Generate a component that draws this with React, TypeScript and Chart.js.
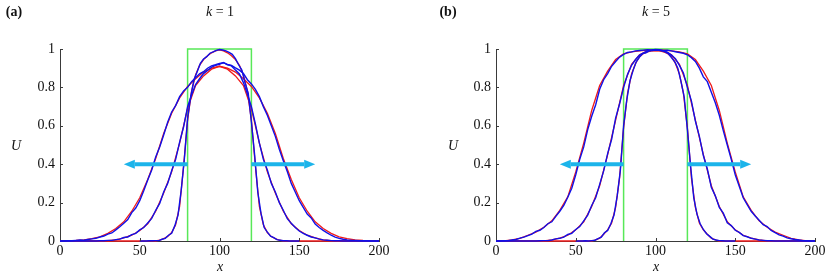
import React, { useEffect, useRef } from 'react';
import { Chart, registerables } from 'chart.js';
Chart.register(...registerables);

// ---------- shared x grids ----------
const xCoarse = [0, 5, 10, 15, 20, 25, 30, 35, 40, 45, 50, 55, 60, 65, 70, 75, 80, 85, 90, 95, 100, 105, 110, 115, 120, 125, 130, 135, 140, 145, 150, 155, 160, 165, 170, 175, 180, 185, 190, 195, 200];
const xFine = [0, 2.5, 5, 7.5, 10, 12.5, 15, 17.5, 20, 22.5, 25, 27.5, 30, 32.5, 35, 37.5, 40, 42.5, 45, 47.5, 50, 52.5, 55, 57.5, 60, 62.5, 65, 67.5, 70, 72.5, 75, 77.5, 80, 82.5, 85, 87.5, 90, 92.5, 95, 97.5, 100, 102.5, 105, 107.5, 110, 112.5, 115, 117.5, 120, 122.5, 125, 127.5, 130, 132.5, 135, 137.5, 140, 142.5, 145, 147.5, 150, 152.5, 155, 157.5, 160, 162.5, 165, 167.5, 170, 172.5, 175, 177.5, 180, 182.5, 185, 187.5, 190, 192.5, 195, 197.5, 200];
const xNarrow = [0, 50, 52.5, 55, 57.5, 60, 62.5, 65, 67.5, 70, 72.5, 75, 77.5, 80, 82.5, 85, 87.5, 90, 92.5, 95, 97.5, 100, 102.5, 105, 107.5, 110, 112.5, 115, 117.5, 120, 122.5, 125, 127.5, 130, 132.5, 135, 137.5, 140, 142.5, 145, 147.5, 150, 200];
const xNarrowBlue = [50, 52, 54, 56, 58, 60, 62, 64, 66, 68, 70, 72, 74, 76, 78, 80, 82, 84, 86, 88, 90, 92, 94, 96, 98, 100, 102, 104, 106, 108, 110, 112, 114, 116, 118, 120, 122, 124, 126, 128, 130, 132, 134, 136, 138, 140, 142, 144, 146, 148, 150];

// ---------- initial box ----------
const boxX = [80, 80, 120, 120];
const boxY = [0, 1, 1, 0];

// ---------- arrows (at U = 0.4) ----------
const arrowU = 0.4;
const arrowLeft = [80, 40];
const arrowRight = [120, 160];

// ---------- ticks ----------
const xTicks = [0, 50, 100, 150, 200];
const yTicks = [0, 0.2, 0.4, 0.6, 0.8, 1];

// ---------- k = 1 : red (theory) ----------
const redWideK1 = [0, 0.001, 0.003, 0.006, 0.012, 0.022, 0.04, 0.065, 0.1, 0.155, 0.225, 0.32, 0.43, 0.56, 0.665, 0.745, 0.805, 0.845, 0.88, 0.9, 0.91, 0.9, 0.88, 0.845, 0.805, 0.745, 0.665, 0.56, 0.43, 0.32, 0.225, 0.155, 0.1, 0.065, 0.04, 0.022, 0.012, 0.006, 0.003, 0.001, 0];
const redMidK1 = [0, 0, 0, 0, 0, 0, 0.002, 0.006, 0.016, 0.03, 0.055, 0.09, 0.155, 0.25, 0.36, 0.51, 0.69, 0.81, 0.86, 0.895, 0.91, 0.895, 0.86, 0.81, 0.69, 0.51, 0.36, 0.25, 0.155, 0.09, 0.055, 0.03, 0.016, 0.006, 0.002, 0, 0, 0, 0, 0, 0];
const redNarrowK1 = [0, 0, 0, 0, 0, 0, 0.004, 0.012, 0.023, 0.044, 0.085, 0.18, 0.39, 0.63, 0.78, 0.865, 0.915, 0.945, 0.965, 0.98, 0.99, 0.995, 0.99, 0.98, 0.965, 0.945, 0.915, 0.865, 0.78, 0.63, 0.39, 0.18, 0.085, 0.044, 0.023, 0.012, 0.004, 0, 0, 0, 0, 0, 0];

// ---------- k = 1 : blue (simulation) ----------
const blueWideK1 = [0, 0, 0.001, 0.001, 0.003, 0.005, 0.004, 0.008, 0.011, 0.014, 0.021, 0.026, 0.036, 0.042, 0.058, 0.074, 0.092, 0.112, 0.148, 0.172, 0.21, 0.262, 0.318, 0.37, 0.438, 0.49, 0.552, 0.618, 0.672, 0.705, 0.752, 0.782, 0.8, 0.83, 0.85, 0.871, 0.882, 0.9, 0.912, 0.918, 0.925,
  0.928, 0.92, 0.915, 0.902, 0.89, 0.872, 0.84, 0.818, 0.79, 0.752, 0.7, 0.655, 0.6, 0.545, 0.478, 0.418, 0.362, 0.3, 0.255, 0.21, 0.175, 0.14, 0.12, 0.088, 0.07, 0.055, 0.042, 0.03, 0.02, 0.014, 0.009, 0.006, 0.004, 0.003, 0.002, 0.001, 0.001, 0, 0, 0];
const blueMidK1 = [0, 0, 0, 0, 0, 0, 0, 0, 0, 0, 0.001, 0.001, 0.003, 0.003, 0.007, 0.01, 0.018, 0.021, 0.033, 0.04, 0.058, 0.07, 0.094, 0.118, 0.16, 0.196, 0.255, 0.3, 0.366, 0.425, 0.515, 0.595, 0.7, 0.76, 0.815, 0.845, 0.872, 0.888, 0.905, 0.915, 0.92,
  0.93, 0.918, 0.912, 0.89, 0.87, 0.825, 0.765, 0.7, 0.61, 0.51, 0.425, 0.37, 0.3, 0.255, 0.2, 0.16, 0.116, 0.092, 0.07, 0.052, 0.04, 0.03, 0.021, 0.016, 0.01, 0.006, 0.004, 0.002, 0.001, 0.001, 0, 0, 0, 0, 0, 0, 0, 0, 0, 0];
const blueNarrowK1 = [0, 0, 0, 0.001, 0.001, 0.002, 0.002, 0.009, 0.014, 0.03, 0.04, 0.08, 0.135, 0.265, 0.43, 0.64, 0.755, 0.84, 0.882, 0.925, 0.948, 0.96, 0.978, 0.985, 0.993, 0.997,
  0.995, 0.99, 0.982, 0.972, 0.95, 0.918, 0.89, 0.825, 0.77, 0.62, 0.45, 0.255, 0.145, 0.07, 0.046, 0.025, 0.017, 0.007, 0.004, 0.001, 0.001, 0, 0, 0, 0];

// ---------- k = 5 : red (theory) ----------
const redWideK5 = [0, 0.001, 0.006, 0.014, 0.03, 0.046, 0.072, 0.105, 0.16, 0.23, 0.36, 0.51, 0.68, 0.81, 0.885, 0.945, 0.975, 0.985, 0.99, 0.994, 0.995, 0.994, 0.99, 0.985, 0.975, 0.945, 0.885, 0.81, 0.68, 0.51, 0.36, 0.23, 0.16, 0.105, 0.072, 0.046, 0.03, 0.014, 0.006, 0.001, 0];
const redMidK5 = [0, 0, 0, 0, 0, 0, 0.001, 0.006, 0.015, 0.03, 0.058, 0.1, 0.18, 0.288, 0.45, 0.63, 0.81, 0.92, 0.97, 0.99, 0.993, 0.99, 0.97, 0.92, 0.81, 0.63, 0.45, 0.288, 0.18, 0.1, 0.058, 0.03, 0.015, 0.006, 0.001, 0, 0, 0, 0, 0, 0];
const redNarrowK5 = [0, 0, 0, 0, 0, 0, 0.006, 0.015, 0.035, 0.058, 0.094, 0.175, 0.33, 0.59, 0.77, 0.87, 0.925, 0.96, 0.977, 0.985, 0.99, 0.99, 0.99, 0.985, 0.977, 0.96, 0.925, 0.87, 0.77, 0.59, 0.33, 0.175, 0.094, 0.058, 0.035, 0.015, 0.006, 0, 0, 0, 0, 0, 0];

// ---------- k = 5 : blue (simulation) ----------
const blueWideK5 = [0, 0, 0.001, 0.002, 0.005, 0.008, 0.015, 0.02, 0.028, 0.036, 0.05, 0.056, 0.07, 0.09, 0.1, 0.128, 0.155, 0.185, 0.228, 0.275, 0.345, 0.425, 0.49, 0.58, 0.65, 0.71, 0.79, 0.84, 0.872, 0.91, 0.935, 0.958, 0.972, 0.982, 0.985, 0.99, 0.992, 0.994, 0.996, 0.995, 0.997,
  0.996, 0.993, 0.994, 0.99, 0.986, 0.982, 0.978, 0.97, 0.955, 0.935, 0.9, 0.855, 0.83, 0.775, 0.72, 0.655, 0.575, 0.5, 0.425, 0.345, 0.285, 0.225, 0.19, 0.155, 0.13, 0.108, 0.085, 0.075, 0.055, 0.044, 0.032, 0.025, 0.016, 0.012, 0.008, 0.005, 0.002, 0.001, 0, 0];
const blueMidK5 = [0, 0, 0, 0, 0, 0, 0, 0, 0, 0, 0, 0.001, 0.002, 0.002, 0.005, 0.011, 0.014, 0.02, 0.034, 0.04, 0.06, 0.075, 0.105, 0.135, 0.185, 0.225, 0.295, 0.365, 0.455, 0.53, 0.64, 0.715, 0.8, 0.868, 0.915, 0.945, 0.968, 0.98, 0.99, 0.993, 0.995,
  0.994, 0.99, 0.984, 0.968, 0.95, 0.915, 0.875, 0.8, 0.73, 0.625, 0.545, 0.445, 0.375, 0.28, 0.235, 0.175, 0.145, 0.095, 0.08, 0.056, 0.045, 0.028, 0.022, 0.014, 0.01, 0.005, 0.003, 0.001, 0.001, 0, 0, 0, 0, 0, 0, 0, 0, 0, 0, 0];
const blueNarrowK5 = [0, 0, 0, 0.001, 0, 0.002, 0.004, 0.012, 0.02, 0.043, 0.055, 0.09, 0.135, 0.235, 0.37, 0.6, 0.735, 0.835, 0.89, 0.935, 0.958, 0.976, 0.98, 0.99, 0.992, 0.994,
  0.993, 0.99, 0.985, 0.976, 0.955, 0.935, 0.9, 0.83, 0.75, 0.58, 0.39, 0.225, 0.14, 0.09, 0.06, 0.038, 0.024, 0.01, 0.005, 0.002, 0.001, 0, 0, 0, 0];

const RED = '#f01a1a';
const BLUE = '#1010e8';
const GREEN = '#58e858';
const CYAN = '#1cb4ea';
const AXIS = '#3a3a3a';
const SERIF = "'Liberation Serif', 'DejaVu Serif', serif";

function pts(xs: number[], ys: number[]) {
  return xs.map((x, i) => ({ x, y: ys[i] }));
}

type PanelProps = {
  left: number;
  yWidth: number;
  padRight: number;
  reds: [number[], number[]][];
  blues: [number[], number[]][];
};

function Panel({ left, yWidth, padRight, reds, blues }: PanelProps) {
  const ref = useRef<HTMLCanvasElement | null>(null);
  useEffect(() => {
    if (!ref.current) return;
    const decor = {
      id: 'decor',
      afterDatasetsDraw(chart: any) {
        const { ctx } = chart;
        const xs = chart.scales.x;
        const ys = chart.scales.y;
        ctx.save();
        // arrows
        const py = ys.getPixelForValue(arrowU);
        const drawArrow = (from: number, to: number) => {
          const a = xs.getPixelForValue(from);
          const b = xs.getPixelForValue(to);
          const dir = Math.sign(b - a);
          const headLen = 11;
          const headHalf = 4.5;
          ctx.strokeStyle = CYAN;
          ctx.fillStyle = CYAN;
          ctx.lineWidth = 4;
          ctx.beginPath();
          ctx.moveTo(a, py);
          ctx.lineTo(b - dir * headLen, py);
          ctx.stroke();
          ctx.beginPath();
          ctx.moveTo(b, py);
          ctx.lineTo(b - dir * headLen, py - headHalf);
          ctx.lineTo(b - dir * headLen, py + headHalf);
          ctx.closePath();
          ctx.fill();
        };
        drawArrow(arrowLeft[0], arrowLeft[1]);
        drawArrow(arrowRight[0], arrowRight[1]);
        // inward tick marks
        ctx.strokeStyle = AXIS;
        ctx.lineWidth = 1;
        const x0 = xs.getPixelForValue(0);
        const y0 = ys.getPixelForValue(0);
        for (const t of yTicks) {
          if (t === 0) continue;
          const p = Math.round(ys.getPixelForValue(t)) + 0.5;
          ctx.beginPath();
          ctx.moveTo(x0, p);
          ctx.lineTo(x0 + 3, p);
          ctx.stroke();
        }
        for (const t of xTicks) {
          if (t === 0) continue;
          const p = Math.round(xs.getPixelForValue(t)) + 0.5;
          ctx.beginPath();
          ctx.moveTo(p, y0);
          ctx.lineTo(p, y0 - 3);
          ctx.stroke();
        }
        ctx.restore();
      },
    };
    const datasets: any[] = [];
    blues.forEach(([xs, ys]) =>
      datasets.push({ data: pts(xs, ys), borderColor: BLUE, borderWidth: 1.4, order: 0 })
    );
    reds.forEach(([xs, ys]) =>
      datasets.push({ data: pts(xs, ys), borderColor: RED, borderWidth: 1.3, order: 1 })
    );
    datasets.push({ data: pts(boxX, boxY), borderColor: GREEN, borderWidth: 1.5, order: 2 });
    datasets.forEach((d) => {
      d.pointRadius = 0;
      d.tension = 0;
      d.fill = false;
      d.clip = false;
    });
    const chart = new Chart(ref.current, {
      type: 'line',
      data: { datasets },
      options: {
        animation: false,
        responsive: false,
        events: [],
        layout: { padding: { left: 0, right: padRight, top: 49, bottom: 0 } },
        plugins: { legend: { display: false }, tooltip: { enabled: false }, title: { display: false } },
        scales: {
          x: {
            type: 'linear',
            min: 0,
            max: 200,
            z: 1,
            afterBuildTicks: (s: any) => {
              s.ticks = xTicks.map((v) => ({ value: v }));
            },
            afterFit: (s: any) => {
              s.height = 35;
            },
            grid: { display: false, drawTicks: false, tickLength: 0 },
            border: { display: true, color: AXIS, width: 1 },
            ticks: { color: '#111', padding: 2, maxRotation: 0, font: { family: SERIF, size: 14 } },
          },
          y: {
            type: 'linear',
            min: 0,
            max: 1,
            z: 1,
            afterBuildTicks: (s: any) => {
              s.ticks = yTicks.map((v) => ({ value: v }));
            },
            afterFit: (s: any) => {
              s.width = yWidth;
            },
            grid: { display: false, drawTicks: false, tickLength: 0 },
            border: { display: true, color: AXIS, width: 1 },
            ticks: {
              color: '#111',
              padding: 5,
              font: { family: SERIF, size: 14 },
              callback: (v: any) => String(Math.round(Number(v) * 10) / 10),
            },
          },
        },
      },
      plugins: [decor],
    });
    return () => chart.destroy();
  }, []);
  return (
    <canvas
      ref={ref}
      width={415}
      height={276}
      style={{ position: 'absolute', left, top: 0, width: 415, height: 276 }}
    />
  );
}

const txt = (x: number, y: number, content: React.ReactNode, extra: React.CSSProperties = {}) => (
  <div
    style={{
      position: 'absolute',
      left: x,
      top: y,
      transform: 'translate(-50%, -50%)',
      fontFamily: SERIF,
      fontSize: 14,
      color: '#111',
      whiteSpace: 'nowrap',
      lineHeight: 1,
      ...extra,
    }}
  >
    {content}
  </div>
);

export default function App() {
  return (
    <div style={{ position: 'fixed', left: 0, top: 0, width: 830, height: 276, background: '#fff', overflow: 'hidden' }}>
      <Panel
        left={0}
        yWidth={60}
        padRight={36}
        reds={[[xCoarse, redWideK1], [xCoarse, redMidK1], [xNarrow, redNarrowK1]]}
        blues={[[xFine, blueWideK1], [xFine, blueMidK1], [xNarrowBlue, blueNarrowK1]]}
      />
      <Panel
        left={415}
        yWidth={81}
        padRight={15}
        reds={[[xCoarse, redWideK5], [xCoarse, redMidK5], [xNarrow, redNarrowK5]]}
        blues={[[xFine, blueWideK5], [xFine, blueMidK5], [xNarrowBlue, blueNarrowK5]]}
      />
      {txt(14, 12, '(a)', { fontWeight: 'bold' })}
      {txt(220, 12, <span><i>k</i> = 1</span>)}
      {txt(16, 146, <i>U</i>)}
      {txt(220, 267, <i>x</i>)}
      {txt(448, 12, '(b)', { fontWeight: 'bold' })}
      {txt(656, 12, <span><i>k</i> = 5</span>)}
      {txt(453, 146, <i>U</i>)}
      {txt(656, 267, <i>x</i>)}
    </div>
  );
}
